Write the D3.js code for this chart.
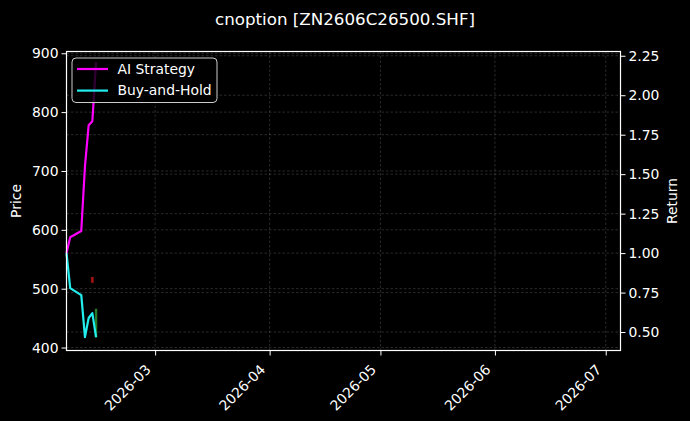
<!DOCTYPE html>
<html>
<head>
<meta charset="utf-8">
<script src="https://cdn.jsdelivr.net/npm/d3@7"></script>
<style>
  body { margin: 0; background: #000; }
  svg { display: block; font-family: "DejaVu Sans", sans-serif; }
</style>
</head>
<body>
<div id="chart"></div>
<script>
// trading days shown in the chart
var dates = ['2026-02-05', '2026-02-06', '2026-02-09', '2026-02-10', '2026-02-11', '2026-02-12', '2026-02-13'];
var aiStrategy = [1.0, 1.10, 1.14, 1.55, 1.81, 1.835, 2.21];
var buyHold = [1.0, 0.778, 0.734, 0.468, 0.589, 0.62, 0.468];

// candle bodies on the price axis
var candleDates = ['2026-02-12', '2026-02-13'];
var candleOpen = [520, 417];
var candleClose = [510, 466];

var priceTicks = [400, 500, 600, 700, 800, 900];
var returnTicks = [0.5, 0.75, 1.0, 1.25, 1.5, 1.75, 2.0, 2.25];
var monthTicks = ['2026-03-01', '2026-04-01', '2026-05-01', '2026-06-01', '2026-07-01'];

var parse = d3.utcParse('%Y-%m-%d');

var W = 690, H = 421;
var margin = { top: 51.5, right: 69.5, bottom: 70.5, left: 66.5 };
var width = W - margin.left - margin.right;
var height = H - margin.top - margin.bottom;
var fs = '13.9px';

var svg = d3.select('#chart').append('svg')
    .attr('width', W)
    .attr('height', H);

svg.append('rect').attr('width', W).attr('height', H).attr('fill', '#000');

var g = svg.append('g')
    .attr('transform', 'translate(' + margin.left + ',' + margin.top + ')');

var x = d3.scaleUtc()
    .domain([parse('2026-02-05'), parse('2026-07-05')])
    .range([0, width]);
var yPrice = d3.scaleLinear().domain([395, 903]).range([height, 0]);
var yRet = d3.scaleLinear().domain([0.383, 2.277]).range([height, 0]);

// grid
var grid = g.append('g').attr('stroke', '#fff').attr('stroke-opacity', 0.28)
    .attr('stroke-width', 0.6).attr('stroke-dasharray', '2.5,2');
monthTicks.forEach(function (m) {
    grid.append('line').attr('x1', x(parse(m))).attr('x2', x(parse(m)))
        .attr('y1', 0).attr('y2', height);
});
priceTicks.forEach(function (p) {
    grid.append('line').attr('x1', 0).attr('x2', width)
        .attr('y1', yPrice(p)).attr('y2', yPrice(p));
});
returnTicks.forEach(function (r) {
    grid.append('line').attr('x1', 0).attr('x2', width)
        .attr('y1', yRet(r)).attr('y2', yRet(r));
});

// candles
var candles = candleDates.map(function (d, i) {
    return { date: parse(d), open: candleOpen[i], close: candleClose[i] };
});
g.selectAll('.candle')
    .data(candles)
    .enter().append('rect')
    .attr('class', 'candle')
    .attr('x', function (d) { return x(d.date) - 1.2; })
    .attr('width', 2.4)
    .attr('y', function (d) { return yPrice(Math.max(d.open, d.close)); })
    .attr('height', function (d) { return Math.abs(yPrice(d.open) - yPrice(d.close)); })
    .attr('fill', function (d) { return d.close >= d.open ? '#2f8f2f' : '#d01515'; })
    .attr('opacity', 0.85);

var line = d3.line()
    .x(function (d) { return x(d.date); })
    .y(function (d) { return yRet(d.value); });

var series = [
    { name: 'AI Strategy', color: '#ff00ff', values: aiStrategy },
    { name: 'Buy-and-Hold', color: '#22eeee', values: buyHold }
];

series.forEach(function (s) {
    var pts = dates.map(function (d, i) { return { date: parse(d), value: s.values[i] }; });
    g.append('path')
        .datum(pts)
        .attr('fill', 'none')
        .attr('stroke', s.color)
        .attr('stroke-width', 2.2)
        .attr('stroke-linejoin', 'round')
        .attr('d', line);
});

// axes
var xAxis = g.append('g')
    .attr('transform', 'translate(0,' + height + ')')
    .call(d3.axisBottom(x).tickValues(monthTicks.map(parse))
        .tickFormat(d3.utcFormat('%Y-%m')).tickSize(5).tickPadding(3));
xAxis.selectAll('text')
    .style('text-anchor', 'end')
    .attr('x', 0)
    .attr('y', 0)
    .attr('dy', 0)
    .attr('transform', 'translate(-4,20) rotate(-45)');

g.append('g')
    .call(d3.axisLeft(yPrice).tickValues(priceTicks).tickSize(5).tickPadding(3));

g.append('g')
    .attr('transform', 'translate(' + width + ',0)')
    .call(d3.axisRight(yRet).tickValues(returnTicks).tickFormat(d3.format('.2f'))
        .tickSize(5).tickPadding(3));

g.selectAll('.domain').remove();
g.selectAll('.tick line').attr('stroke', '#fff');
g.selectAll('.tick text').attr('fill', '#fff').style('font-size', fs)
    .style('font-family', '"DejaVu Sans", sans-serif');

// frame
g.append('rect').attr('width', width).attr('height', height)
    .attr('fill', 'none').attr('stroke', '#fff').attr('stroke-width', 1.2);

// labels
svg.append('text')
    .attr('x', W / 2).attr('y', 25)
    .attr('text-anchor', 'middle')
    .attr('fill', '#fff').style('font-size', '16.7px')
    .text('cnoption [ZN2606C26500.SHF]');

svg.append('text')
    .attr('transform', 'translate(21,' + (margin.top + height / 2) + ') rotate(-90)')
    .attr('text-anchor', 'middle')
    .attr('fill', '#fff').style('font-size', fs)
    .text('Price');

svg.append('text')
    .attr('transform', 'translate(677,' + (margin.top + height / 2) + ') rotate(-90)')
    .attr('text-anchor', 'middle')
    .attr('fill', '#fff').style('font-size', fs)
    .text('Return');

// legend
var legend = g.append('g').attr('transform', 'translate(5.5,6.5)');
legend.append('rect')
    .attr('width', 145).attr('height', 44.5)
    .attr('rx', 4)
    .attr('fill', '#000').attr('fill-opacity', 0.8)
    .attr('stroke', '#ccc').attr('stroke-width', 1);
series.forEach(function (s, i) {
    var yy = 11 + i * 21.6;
    legend.append('line')
        .attr('x1', 5).attr('x2', 36).attr('y1', yy).attr('y2', yy)
        .attr('stroke', s.color).attr('stroke-width', 2.2);
    legend.append('text')
        .attr('x', 45.5).attr('y', yy).attr('dy', '0.35em')
        .attr('fill', '#fff').style('font-size', fs)
        .text(s.name);
});
</script>
</body>
</html>
